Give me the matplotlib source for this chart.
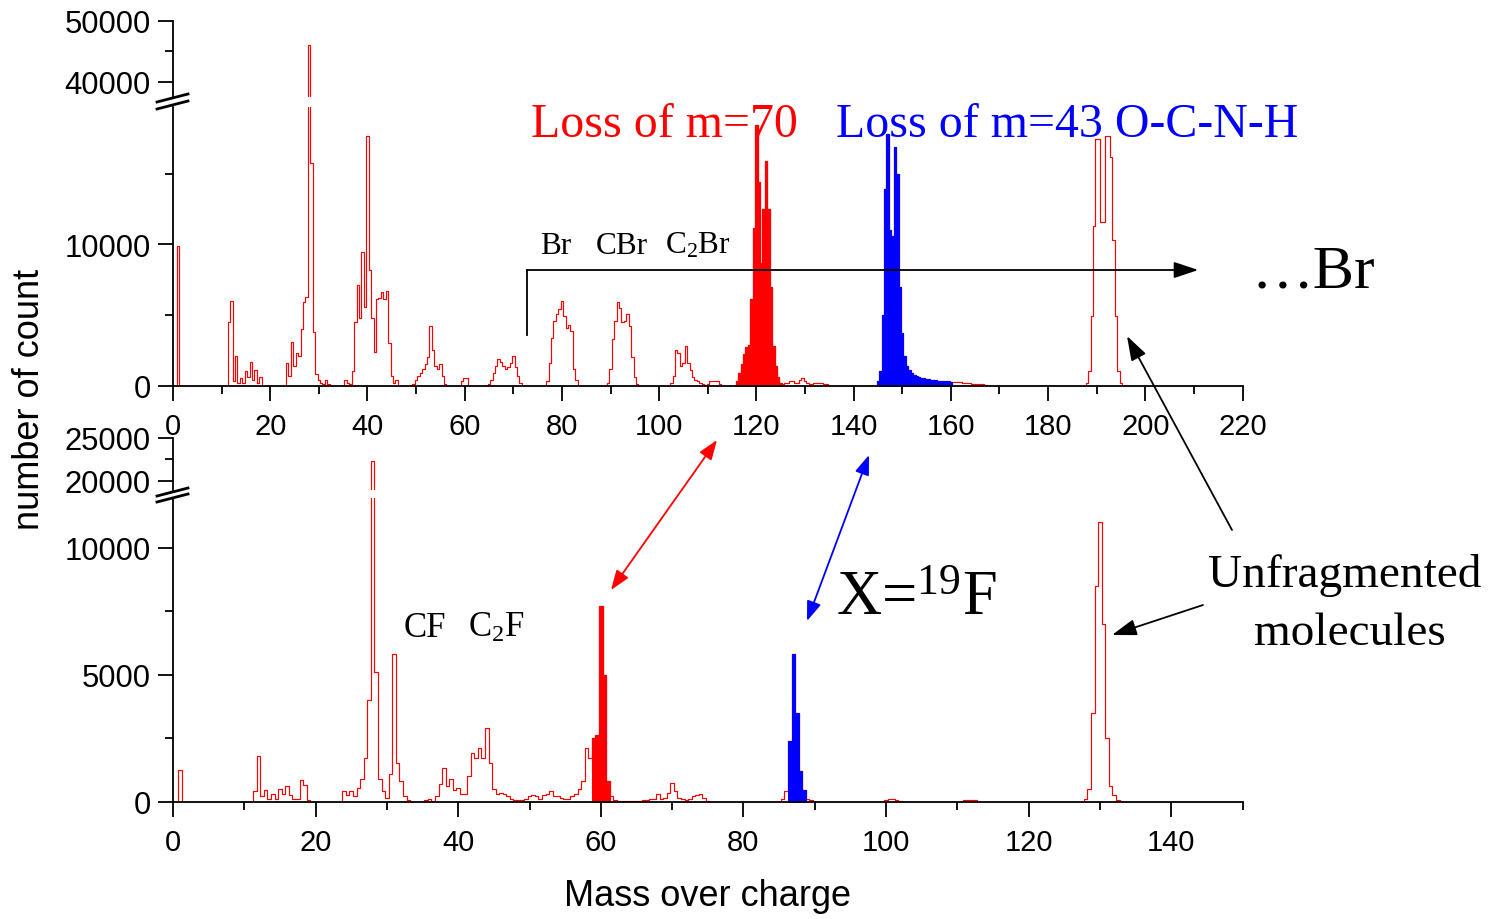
import numpy as np
import matplotlib
matplotlib.use("Agg")
import matplotlib.pyplot as plt
from matplotlib.lines import Line2D
from matplotlib.patches import FancyArrowPatch

plt.rcParams['mathtext.fontset'] = 'custom'
plt.rcParams['mathtext.rm'] = 'Liberation Serif'
plt.rcParams['mathtext.it'] = 'Liberation Serif:italic'

SANS = 'Liberation Sans'
SERIF = 'Liberation Serif'
BIN = 0.5

# ---------------- data (start m/z, counts at 0.5 steps) ----------------
top_seg_01 = (1.0, [9900])
top_seg_12 = (11.5, [4500, 6000, 300, 2100, 200, 500, 200, 1000, 600, 1700, 400, 1100, 200, 600])
top_seg_28 = (23.5, [1600, 700, 3100, 1400, 2300, 2100, 4000, 5900, 6300, 46000, 15800, 3800,
                     800, 400, 200, 100, 400, 100])
top_seg_40 = (35.5, [400, 200, 100, 1000, 4500, 7100, 4800, 9500, 5600, 17700, 8200, 4800, 2400,
                     6100, 6200, 6600, 6100, 6700, 3000, 700, 200, 400])
top_seg_53 = (49.5, [100, 400, 700, 900, 1200, 1500, 2000, 4200, 2500, 1400, 1200, 1500, 700, 100])
top_seg_60 = (59.5, [300, 500, 500])
top_seg_68 = (65.0, [100, 400, 900, 1400, 1900, 1700, 1400, 1200, 1300, 1600, 2100, 1300, 700, 200])
top_seg_80 = (77.0, [300, 1600, 3400, 4600, 5100, 5400, 6000, 4900, 4100, 4300, 3900, 1200, 400])
top_seg_92 = (89.5, [200, 1200, 3300, 4600, 5900, 5500, 4500, 4600, 5100, 4200, 2000, 600, 100])
top_seg_104 = (102.5, [200, 700, 2500, 2300, 1400, 1600, 2800, 1600, 1100, 600, 400, 300, 200,
                       100, 50, 100, 300, 300, 300, 300, 100])
top_seg_121 = (116.0, [300, 900, 1500, 2200, 2700, 2900, 6100, 11200, 18500, 14400, 8700, 12500,
                       15900, 12500, 7000, 2800, 1400, 600, 200])
top_seg_130 = (125.5, [100, 200, 200, 300, 300, 200, 200, 400, 500, 300, 200, 100, 100, 200, 200,
                       200, 200, 100, 100])
top_seg_148 = (145.0, [300, 1000, 5000, 13900, 17800, 11000, 10600, 16900, 15000, 7000, 3700, 2100,
                       1400, 1100, 900, 750, 700, 600, 550, 500, 450, 430, 400, 380, 360, 350, 330,
                       320, 300, 300, 280])
top_seg_tail = (160.5, [260, 250, 240, 220, 200, 180, 160, 150, 140, 120, 100, 90, 80, 70, 50])
top_seg_191 = (188.0, [170, 1000, 4900, 11300, 17500, 17500, 11600, 11600, 17700, 17700, 16200,
                       10300, 4900, 1000, 170])

bot_seg_01 = (1.0, [1250])
bot_seg_12 = (11.5, [400, 1800, 200, 450, 100, 300, 100, 500, 300, 600, 250, 100, 100, 850, 650, 50])
bot_seg_28 = (24.0, [400, 250, 400, 200, 550, 900, 1700, 4000, 22300, 5100, 900, 400, 150, 1100,
                     5800, 1500, 800, 200, 50])
bot_seg_44 = (35.5, [50, 100, 30, 200, 700, 1300, 600, 900, 450, 550,
                     300, 300, 1000, 1900, 1700, 2100, 1700, 2900, 1500, 500,
                     300, 350, 300, 200, 80, 50, 50, 50, 100, 200,
                     250, 200, 100, 250, 300, 400, 200, 200, 150, 80,
                     100, 200, 300, 500, 800, 2100, 1700])
bot_seg_60 = (59.0, [2500, 2600, 7700, 5000, 800, 200])
bot_seg_70 = (62.0, [50, 30, 30, 30, 30, 30, 30, 30, 50, 50, 80, 100, 280, 100, 150, 340, 730, 400,
                     150, 80, 50, 100, 200, 250, 310, 150, 30])
bot_seg_87 = (85.5, [100, 400, 2400, 5800, 3500, 1200, 450, 100, 50])
bot_seg_101 = (100.0, [60, 80, 80, 60, 30])
bot_seg_112 = (111.0, [50, 60, 60, 50])
bot_seg_130 = (128.0, [100, 500, 3500, 8500, 11000, 7000, 2500, 600, 250, 50])

top_segments = [top_seg_01, top_seg_12, top_seg_28, top_seg_40, top_seg_53, top_seg_60, top_seg_68,
                top_seg_80, top_seg_92, top_seg_104, top_seg_121, top_seg_130, top_seg_148,
                top_seg_tail, top_seg_191]
bot_segments = [bot_seg_01, bot_seg_12, bot_seg_28, bot_seg_44, bot_seg_60, bot_seg_70, bot_seg_87,
                bot_seg_101, bot_seg_112, bot_seg_130]

top_red_fill = (116.0, 125.0)
top_blue_fill = (145.0, 160.0)
bot_red_fill = (59.0, 61.0)
bot_blue_fill = (86.5, 88.5)

top_xmax, bot_xmax = 220, 150
top_xticks = [0, 20, 40, 60, 80, 100, 120, 140, 160, 180, 200, 220]
bot_xticks = [0, 20, 40, 60, 80, 100, 120, 140]
top_lo_yticks = [0, 10000]
top_lo_yminor = [5000, 15000]
top_hi_yticks = [40000, 50000]
top_hi_yminor = [45000]
bot_lo_yticks = [0, 5000, 10000]
bot_lo_yminor = [2500, 7500]
bot_hi_yticks = [20000, 25000]
bot_hi_yminor = [22500]


def build(segments, xmax):
    m = np.arange(0, xmax + BIN / 2, BIN)
    c = np.zeros_like(m)
    for start, vals in segments:
        i = int(round(start / BIN))
        c[i:i + len(vals)] = vals
    return m, c


top_m, top_c = build(top_segments, top_xmax)
bot_m, bot_c = build(bot_segments, bot_xmax)

W, H = 1494, 920
fig = plt.figure(figsize=(W / 100, H / 100), dpi=100)
fig.patch.set_facecolor('white')


def fx(x):
    return x / W


def fy(y):
    return 1 - y / H


def add_ax(top_px, bot_px, right_px=1242.5):
    return fig.add_axes([fx(173), fy(bot_px), (right_px - 173) / W, (bot_px - top_px) / H])


ax_th = add_ax(22, 98)
ax_tl = add_ax(108, 386.5)
ax_bh = add_ax(439, 491)
ax_bl = add_ax(499, 802.5)

LW = 1.3


def fill_region(ax, m, c, lo, hi, color):
    sel = (m >= lo - 1e-9) & (m <= hi + 1e-9)
    xs = np.column_stack([m[sel] - BIN / 2, m[sel] + BIN / 2]).ravel()
    ys = np.repeat(c[sel], 2)
    ax.fill_between(xs, ys, 0, facecolor=color, edgecolor=color, lw=0.8, zorder=2.2)


def draw_spectrum(ax, m, c, fills):
    ax.plot(m, c, drawstyle='steps-mid', color='#ff0000', lw=0.85, zorder=2)
    for lo, hi, col in fills:
        fill_region(ax, m, c, lo, hi, col)


def style(ax, lower, xmax, xticks, yt, ym, ylim):
    ax.set_xlim(0, xmax)
    ax.set_ylim(*ylim)
    ax.set_facecolor('none')
    for s in ['top', 'right']:
        ax.spines[s].set_visible(False)
    ax.spines['left'].set_linewidth(LW)
    ax.spines['bottom'].set_linewidth(LW)
    ax.set_yticks(yt)
    ax.set_yticks(ym, minor=True)
    ax.set_yticklabels([str(v) for v in yt])
    ax.tick_params(axis='y', which='major', direction='out', length=11, width=LW, pad=5,
                   labelsize=22.3)
    ax.tick_params(axis='y', which='minor', direction='out', length=6, width=LW)
    if lower:
        ax.set_xticks(xticks)
        ax.set_xticks(np.arange(10, xmax + 1, 20), minor=True)
        ax.set_xticklabels([str(v) for v in xticks])
        ax.tick_params(axis='x', which='major', direction='out', length=11, width=LW, pad=8,
                       labelsize=21)
        ax.tick_params(axis='x', which='minor', direction='out', length=6, width=LW)
    else:
        ax.spines['bottom'].set_visible(False)
        ax.set_xticks([])
        ax.set_xticks([], minor=True)
    for lab in ax.get_xticklabels() + ax.get_yticklabels():
        lab.set_fontfamily(SANS)


top_fills = [(top_red_fill[0], top_red_fill[1], '#ff0000'), (top_blue_fill[0], top_blue_fill[1], '#0000ff')]
bot_fills = [(bot_red_fill[0], bot_red_fill[1], '#ff0000'), (bot_blue_fill[0], bot_blue_fill[1], '#0000ff')]

for ax in (ax_th, ax_tl):
    draw_spectrum(ax, top_m, top_c, top_fills)
for ax in (ax_bh, ax_bl):
    draw_spectrum(ax, bot_m, bot_c, bot_fills)

style(ax_th, False, top_xmax, top_xticks, top_hi_yticks, top_hi_yminor, (37540, 50000))
style(ax_tl, True, top_xmax, top_xticks, top_lo_yticks, top_lo_yminor, (0, 19750))
style(ax_bh, False, bot_xmax, bot_xticks, bot_hi_yticks, bot_hi_yminor, (18900, 25000))
style(ax_bl, True, bot_xmax, bot_xticks, bot_lo_yticks, bot_lo_yminor, (0, 11950))

# axis break marks
for (x0, y0, x1, y1) in [(157, 103, 188, 95), (157, 110, 188, 102),
                         (157, 497, 188, 489), (157, 503, 188, 495)]:
    fig.add_artist(Line2D([fx(x0), fx(x1)], [fy(y0), fy(y1)], color='black', lw=2.0,
                          transform=fig.transFigure))

# bracket with arrow (top panel, data coords)
ax_tl.plot([72.8, 72.8], [3580, 8190], color='black', lw=LW, clip_on=False, zorder=3)
ax_tl.annotate('', xy=(210.9, 8190), xytext=(72.8, 8190), xycoords='data', textcoords='data',
               arrowprops=dict(arrowstyle='-|>,head_length=0.75,head_width=0.25', mutation_scale=20,
                               color='black', lw=LW, shrinkA=0, shrinkB=0), annotation_clip=False)


def fig_arrow(p_tail, p_head, color, style):
    a = FancyArrowPatch((fx(p_tail[0]), fy(p_tail[1])), (fx(p_head[0]), fy(p_head[1])),
                        transform=fig.transFigure, arrowstyle=style, mutation_scale=20,
                        color=color, lw=LW, shrinkA=0, shrinkB=0)
    fig.add_artist(a)


fig_arrow((1232, 531), (1127, 337), 'black', '-|>,head_length=0.75,head_width=0.25')
fig_arrow((1203, 606), (1112, 636), 'black', '-|>,head_length=0.75,head_width=0.25')
fig_arrow((717, 441), (611, 591), '#ff0000', '<|-|>,head_length=0.6,head_width=0.22')
fig_arrow((869, 456), (807, 622), '#0000ff', '<|-|>,head_length=0.6,head_width=0.22')

# texts
fig.text(fx(531), fy(137), 'Loss of m=70', color='#ff0000', fontsize=34.5, family=SERIF,
         ha='left', va='baseline')
fig.text(fx(836), fy(137), 'Loss of m=43 O-C-N-H', color='#0000ff', fontsize=34.5, family=SERIF,
         ha='left', va='baseline')
fig.text(fx(540), fy(254), 'Br', fontsize=22.5, family=SERIF, ha='left', va='baseline')
fig.text(fx(596), fy(254), 'CBr', fontsize=22.5, family=SERIF, ha='left', va='baseline')
fig.text(fx(665), fy(254), r'C$_2$Br', fontsize=22.5, family=SERIF, ha='left', va='baseline')
fig.text(fx(1252), fy(288), '\u2026Br', fontsize=44.5, family=SERIF, ha='left', va='baseline')
fig.text(fx(404), fy(637), 'CF', fontsize=25, family=SERIF, ha='left', va='baseline')
fig.text(fx(468), fy(637), r'C$_2$F', fontsize=25, family=SERIF, ha='left', va='baseline')
fig.text(fx(836), fy(615), r'X=$^{19}$F', fontsize=45, family=SERIF, ha='left', va='baseline')
fig.text(fx(1345), fy(587), 'Unfragmented', fontsize=34, family=SERIF, ha='center', va='baseline')
fig.text(fx(1350), fy(645), 'molecules', fontsize=34, family=SERIF, ha='center', va='baseline')

fig.text(fx(708), fy(897), 'Mass over charge', fontsize=26, family=SANS, ha='center', va='center')
fig.text(fx(30), fy(399), 'number of count', fontsize=26, family=SANS, ha='center', va='center',
         rotation=90)

fig.savefig('out.png', dpi=100, facecolor='white')
